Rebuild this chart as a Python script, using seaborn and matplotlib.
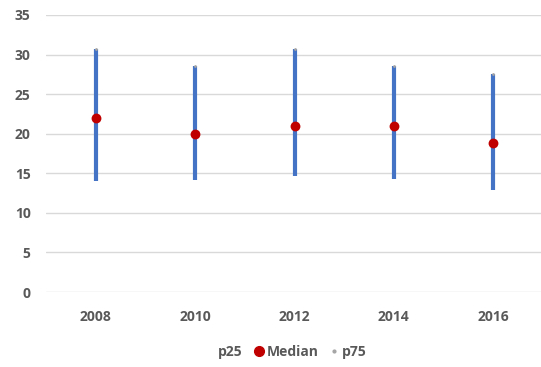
import matplotlib
matplotlib.use("Agg")
import matplotlib.pyplot as plt
import seaborn as sns
import pandas as pd
from matplotlib.lines import Line2D

years = ["2008", "2010", "2012", "2014", "2016"]
p25 = [14.0, 14.2, 14.6, 14.3, 12.9]
median = [22.0, 20.0, 21.0, 21.0, 18.8]
p75 = [30.7, 28.5, 30.7, 28.5, 27.6]

sns.set_theme(style="whitegrid")
plt.rcParams["font.family"] = ["Open Sans", "DejaVu Sans"]

df = pd.DataFrame({"year": years, "p25": p25, "median": median, "p75": p75})
df["x"] = range(len(years))

fig = plt.figure(figsize=(5.41, 3.67), dpi=100)
ax = fig.add_axes([46 / 541, 75 / 367, 497 / 541, 277 / 367])

blue = "#4472C4"
red = "#C00000"

# high-low range lines
ax.vlines(df["x"], df["p25"], df["p75"], color=blue, linewidth=3.0, zorder=2)
# tiny p75 markers
sns.scatterplot(data=df, x="x", y="p75", ax=ax, color="#A5A5A5", s=4,
                linewidth=0, zorder=3, legend=False)
# medians
sns.scatterplot(data=df, x="x", y="median", ax=ax, color=red, s=50,
                linewidth=0, zorder=4, legend=False)

ax.set_xlim(-0.5, len(years) - 0.5)
ax.set_ylim(0, 35)
ax.set_yticks(range(0, 36, 5))
ax.set_xticks(df["x"])
ax.set_xticklabels(years)
ax.set_xlabel("")
ax.set_ylabel("")
ax.grid(axis="x", visible=False)
ax.grid(axis="y", color="#D9D9D9", linewidth=1.0)
for s in ax.spines.values():
    s.set_visible(False)
ax.tick_params(axis="both", length=0, labelsize=10, labelcolor="#595959")
ax.tick_params(axis="y", pad=11)
ax.tick_params(axis="x", pad=13)
for lbl in ax.get_xticklabels() + ax.get_yticklabels():
    lbl.set_fontweight("bold")
ax.set_facecolor("white")

handles = [
    Line2D([], [], linestyle="none", marker=None),
    Line2D([], [], linestyle="none", marker="o", color=red, markersize=7),
    Line2D([], [], linestyle="none", marker="o", color="#A5A5A5", markersize=2),
]
leg = fig.legend(handles, ["p25", "Median", "p75"], loc="center",
                 bbox_to_anchor=(0.53, 0.04), ncol=3, frameon=False,
                 handlelength=0.5, handletextpad=0.3, columnspacing=0.9,
                 prop={"weight": "bold", "size": 10})
for t in leg.get_texts():
    t.set_color("#595959")

fig.savefig("out.png", dpi=100, facecolor="white")
